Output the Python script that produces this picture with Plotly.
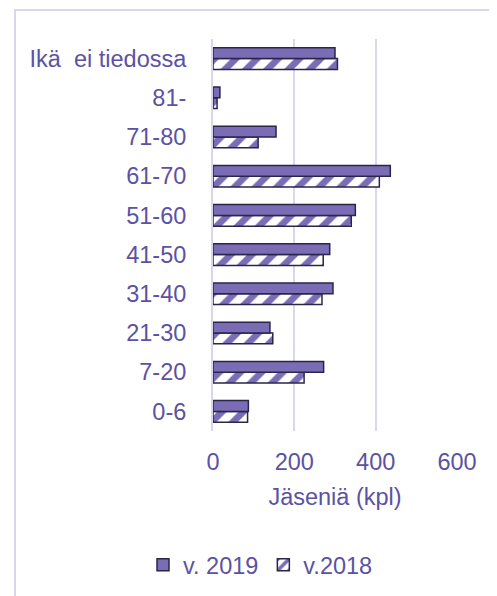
import plotly.graph_objects as go

categories = ["0-6", "7-20", "21-30", "31-40", "41-50", "51-60", "61-70", "71-80", "81-", "Ikä\u00a0 ei tiedossa"]
v2019 = [87, 272, 140, 295, 287, 350, 436, 155, 17, 300]
v2018 = [85, 224, 147, 268, 271, 340, 409, 111, 10, 306]
x_ticks = [0, 200, 400, 600]

TEXT = "#5b52a3"
FILL = "#7a6db5"
EDGE = "#29264a"
GRID = "#d9d7ee"
FONT = "Liberation Sans, Arial, sans-serif"
FS = 23.5

# page body adds an 8px margin, so the figure is sized/placed accordingly
W, H = 489, 588
L, R, T, B = 205, 40, 31, 165
pw, ph = W - L - R, H - T - B

def px_x(p):
    return (p - L) / pw

def px_y(p):
    return (H - B - p) / ph

fig = go.Figure()
fig.add_trace(go.Bar(
    y=categories, x=v2018, orientation="h", name="v.2018",
    marker=dict(color="white", line=dict(color=EDGE, width=1.5),
                pattern=dict(shape="/", fgcolor=FILL, bgcolor="white", size=15,
                             solidity=0.45, fgopacity=1)),
))
fig.add_trace(go.Bar(
    y=categories, x=v2019, orientation="h", name="v. 2019",
    marker=dict(color=FILL, line=dict(color=EDGE, width=1.5)),
))

fig.update_layout(
    width=W, height=H,
    margin=dict(l=L, r=R, t=T, b=B, autoexpand=False),
    paper_bgcolor="white", plot_bgcolor="white",
    barmode="group", bargap=0.45, bargroupgap=0,
    font=dict(family=FONT, size=FS, color=TEXT),
    showlegend=True,
    legend=dict(orientation="h", traceorder="reversed", x=px_x(135), xanchor="left",
                y=px_y(557), yanchor="middle", font=dict(size=FS, color=TEXT),
                itemwidth=30, bgcolor="rgba(0,0,0,0)"),
    xaxis=dict(range=[0, 600], tickvals=x_ticks, ticktext=[str(t) for t in x_ticks],
               showgrid=True, gridcolor=GRID, gridwidth=2, zeroline=False,
               showline=False, ticks="", ticklabelstandoff=14, automargin=False,
               title=dict(text="Jäseniä (kpl)", standoff=15, font=dict(size=FS, color=TEXT)),
               fixedrange=True),
    yaxis=dict(categoryorder="array", categoryarray=categories, showgrid=False,
               zeroline=False, showline=True, linecolor=GRID, linewidth=2,
               ticks="", ticklabelstandoff=20, automargin=False,
               fixedrange=True),
    shapes=[dict(type="rect", xref="paper", yref="paper",
                 x0=px_x(7), x1=px_x(520), y0=px_y(620), y1=px_y(2),
                 line=dict(color=GRID, width=2), fillcolor="rgba(0,0,0,0)", layer="below")],
)

fig.write_html("out.html")
